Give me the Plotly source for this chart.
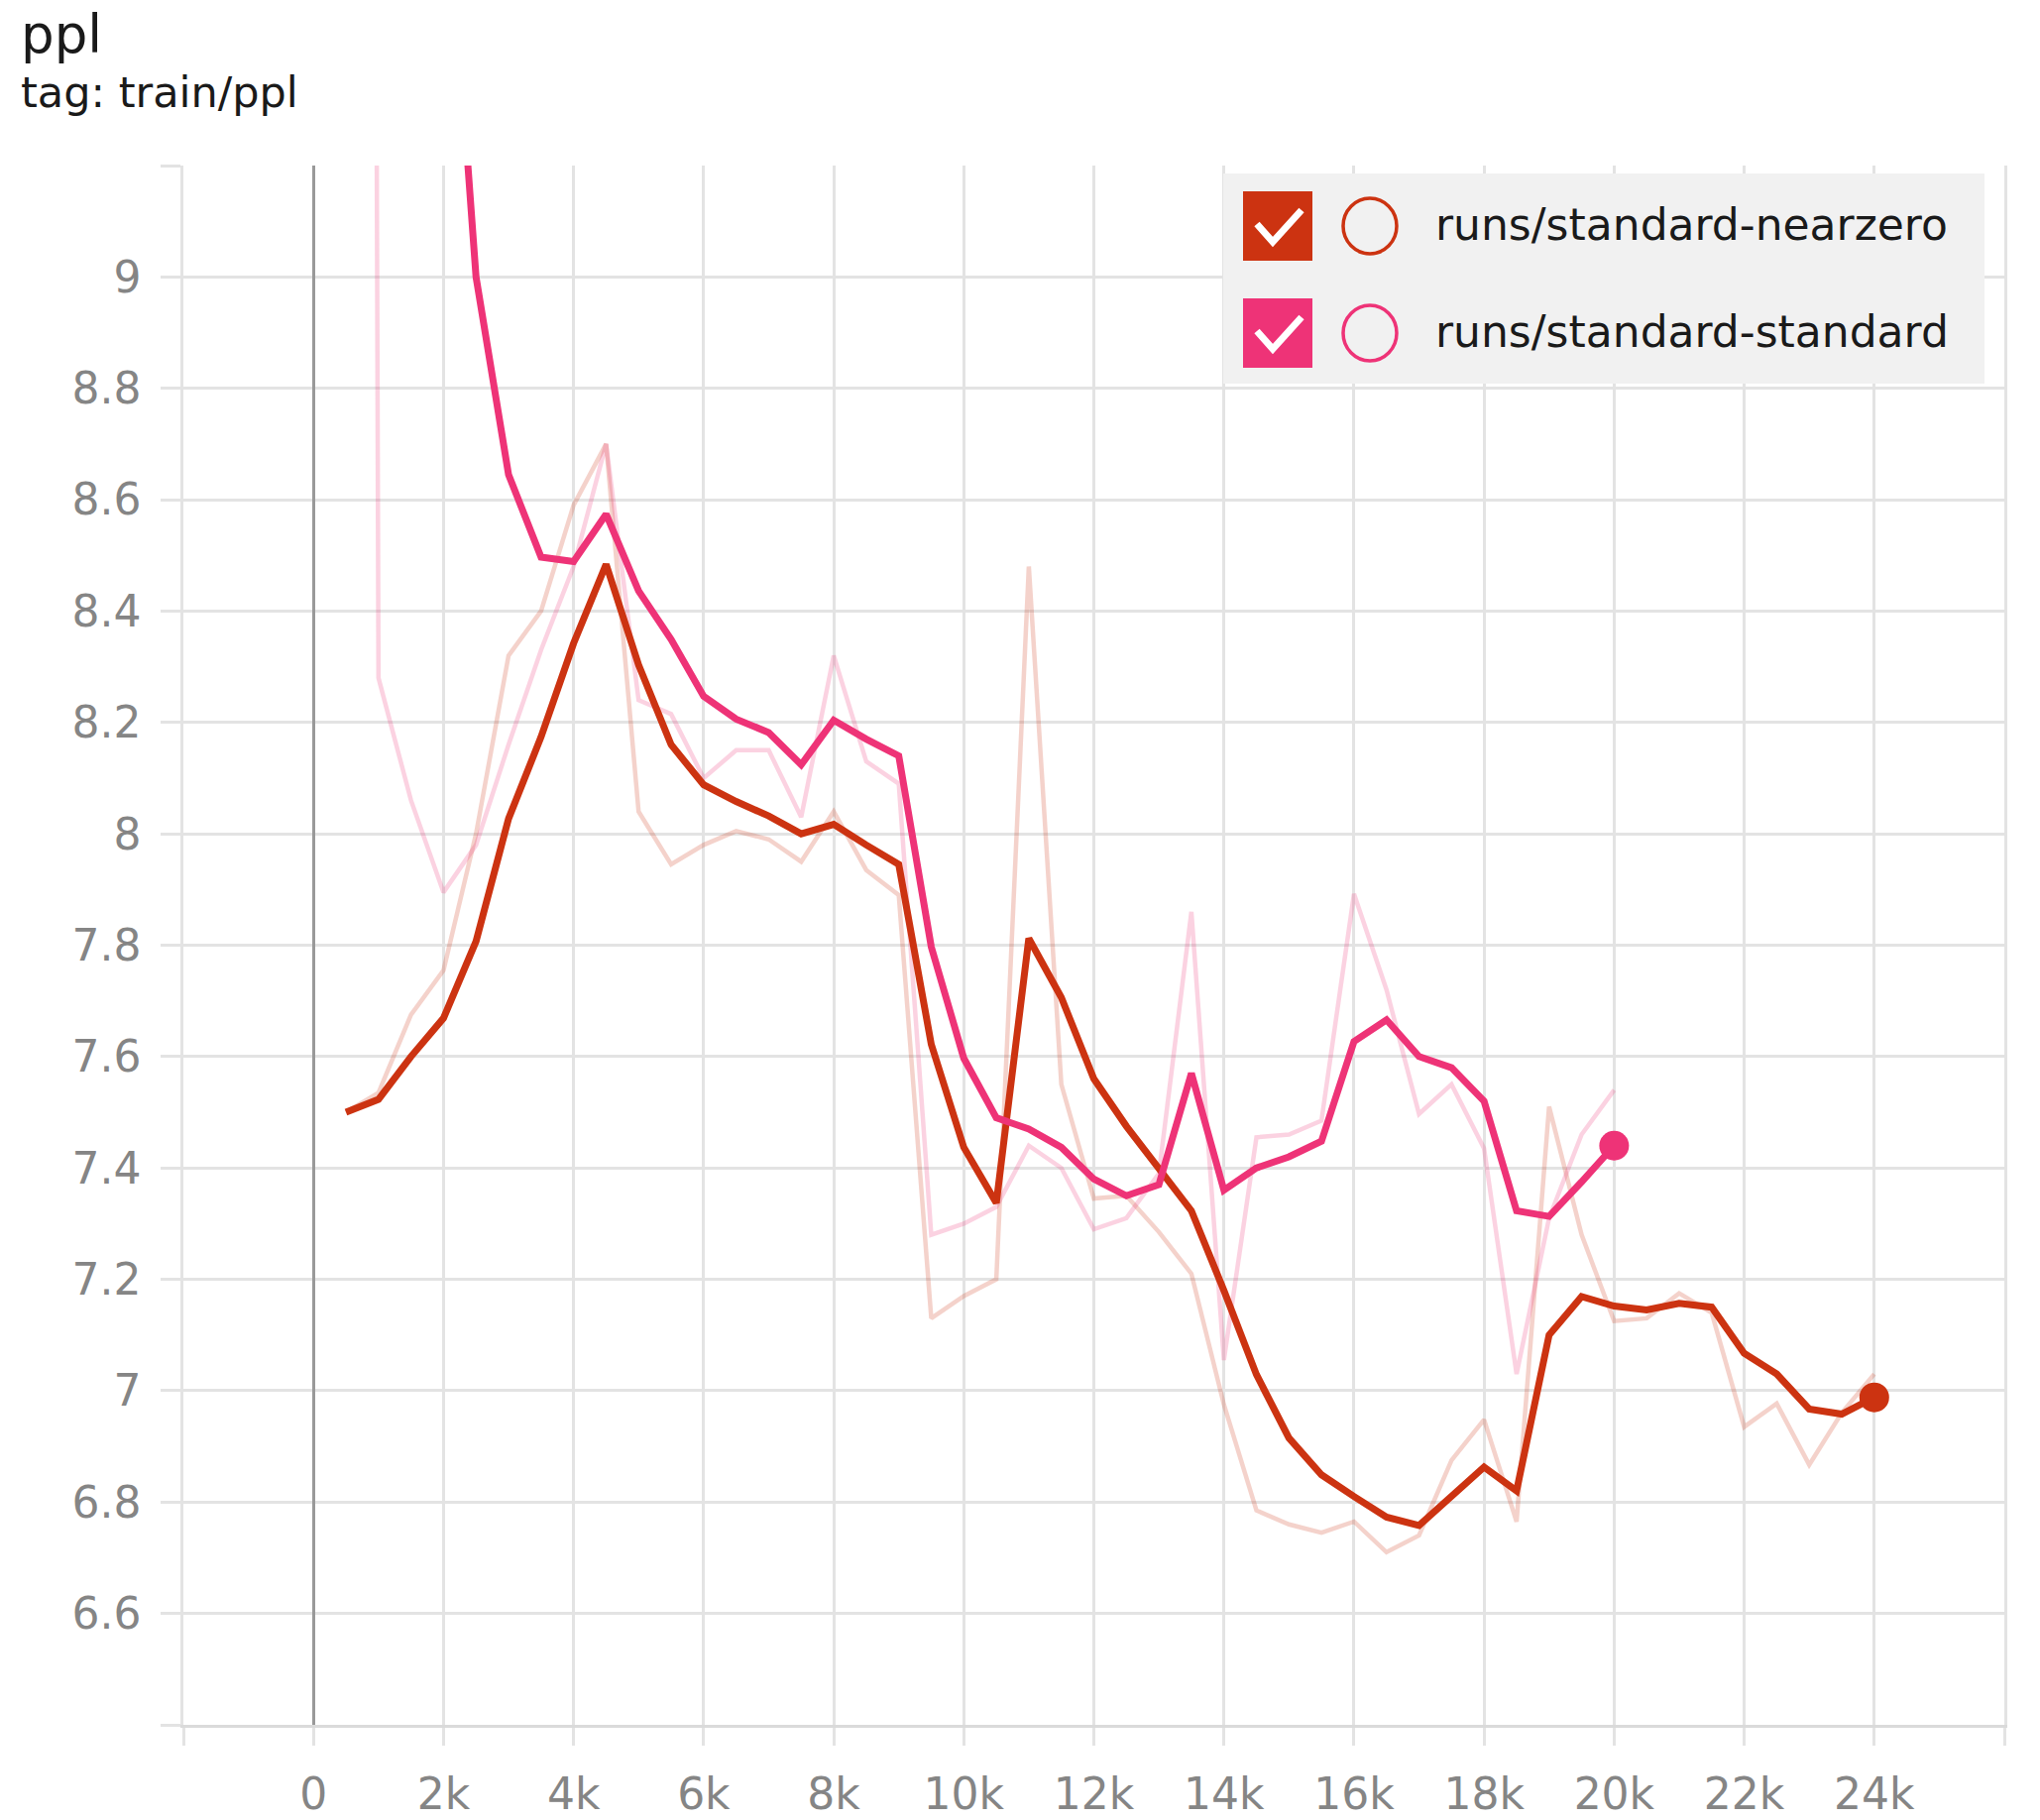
import plotly.graph_objects as go

# ---------------- data ----------------
steps_nearzero = list(range(500, 24001, 500))
steps_standard = list(range(500, 20001, 500))

nearzero_raw = [7.50, 7.535, 7.675, 7.755, 8.00, 8.32, 8.40, 8.59, 8.70, 8.04,
                7.945, 7.98, 8.005, 7.99, 7.95, 8.04, 7.935, 7.89, 7.13, 7.17,
                7.20, 8.48, 7.55, 7.345, 7.35, 7.285, 7.21, 6.975, 6.785, 6.76,
                6.745, 6.765, 6.71, 6.74, 6.875, 6.948, 6.765, 7.51, 7.28, 7.125,
                7.13, 7.175, 7.14, 6.935, 6.977, 6.867, 6.96, 7.03]
nearzero_smooth = [7.50, 7.523, 7.60, 7.669, 7.807, 8.027, 8.174, 8.342, 8.484, 8.303,
                   8.16, 8.088, 8.058, 8.032, 8.0, 8.017, 7.98, 7.945, 7.622, 7.437,
                   7.337, 7.812, 7.706, 7.56, 7.475, 7.40, 7.323, 7.18, 7.029, 6.915,
                   6.849, 6.81, 6.773, 6.758, 6.81, 6.863, 6.82, 7.10, 7.169, 7.152,
                   7.145, 7.157, 7.15, 7.067, 7.03, 6.967, 6.958, 6.988]

standard_raw = [26.0, 8.28, 8.06, 7.895, 7.98, 8.16, 8.33, 8.48, 8.70, 8.24,
                8.215, 8.10, 8.15, 8.15, 8.03, 8.32, 8.13, 8.09, 7.28, 7.30,
                7.33, 7.44, 7.40, 7.29, 7.31, 7.39, 7.86, 7.055, 7.455, 7.46,
                7.485, 7.892, 7.72, 7.497, 7.55, 7.435, 7.03, 7.31, 7.46, 7.54]
standard_smooth = [26.0, 14.93, 11.42, 9.80, 9.0, 8.645, 8.497, 8.489, 8.574, 8.436,
                   8.349, 8.247, 8.206, 8.182, 8.124, 8.204, 8.17, 8.14, 7.797, 7.597,
                   7.49, 7.47, 7.437, 7.38, 7.35, 7.37, 7.57, 7.36, 7.40, 7.42,
                   7.448, 7.627, 7.666, 7.60, 7.58, 7.52, 7.323, 7.313, 7.375, 7.44]

run_names = ["runs/standard-nearzero", "runs/standard-standard"]
run_colors = ["#cc3311", "#ee3377"]
raw_colors = ["rgba(204,51,17,0.22)", "rgba(238,51,119,0.22)"]

x_tickvals = list(range(-2000, 26001, 2000))
x_ticktext = ["", "0", "2k", "4k", "6k", "8k", "10k", "12k", "14k", "16k",
              "18k", "20k", "22k", "24k", ""]
y_tickvals = [6.4, 6.6, 6.8, 7.0, 7.2, 7.4, 7.6, 7.8, 8.0, 8.2, 8.4, 8.6, 8.8, 9.0, 9.2]
y_ticktext = ["", "6.6", "6.8", "7", "7.2", "7.4", "7.6", "7.8", "8", "8.2",
              "8.4", "8.6", "8.8", "9", ""]

title_text = "ppl"
subtitle_text = "tag: train/ppl"

# ---------------- layout helpers ----------------
W, H = 2058, 1836
PL, PR, PT, PB = 185, 2022, 167, 1740
FONT = "DejaVu Sans"
GRID = "#e3e3e3"


def px(x):
    return (x - PL) / (PR - PL)


def py(y):
    return (PB - y) / (PB - PT)


fig = go.Figure()

series = [
    (steps_nearzero, nearzero_raw, nearzero_smooth),
    (steps_standard, standard_raw, standard_smooth),
]

for i, (xs, raw, _) in enumerate(series):
    fig.add_trace(go.Scatter(x=xs, y=raw, mode="lines",
                             line=dict(color=raw_colors[i], width=4.5),
                             showlegend=False, hoverinfo="skip"))
for i, (xs, _, sm) in enumerate(series):
    fig.add_trace(go.Scatter(x=xs, y=sm, mode="lines", name=run_names[i],
                             line=dict(color=run_colors[i], width=7),
                             showlegend=False))
for i, (xs, _, sm) in enumerate(series):
    fig.add_trace(go.Scatter(x=[xs[-1]], y=[sm[-1]], mode="markers",
                             marker=dict(color=run_colors[i], size=30),
                             showlegend=False, hoverinfo="skip"))

shapes = []
annotations = []

# legend box
shapes.append(dict(type="rect", xref="paper", yref="paper",
                   x0=px(1234), x1=px(2002), y0=py(387), y1=py(175),
                   fillcolor="#f1f1f1", line=dict(width=0), layer="above"))
for r in range(2):
    dy = r * 108
    shapes.append(dict(type="rect", xref="paper", yref="paper",
                       x0=px(1254), x1=px(1324), y0=py(263 + dy), y1=py(193 + dy),
                       fillcolor=run_colors[r], line=dict(width=0), layer="above"))
    path = "M {} {} L {} {} L {} {}".format(px(1268), py(226 + dy), px(1284), py(244 + dy),
                                             px(1313), py(212 + dy))
    shapes.append(dict(type="path", xref="paper", yref="paper", path=path,
                       line=dict(color="white", width=7), layer="above"))
    shapes.append(dict(type="circle", xref="paper", yref="paper",
                       x0=px(1355), x1=px(1409), y0=py(256 + dy), y1=py(200 + dy),
                       line=dict(color=run_colors[r], width=3.5), layer="above"))
    annotations.append(dict(xref="paper", yref="paper", x=px(1446), y=py(226 + dy),
                            xanchor="left", yanchor="middle", showarrow=False,
                            text=run_names[r], font=dict(family=FONT, size=44, color="#1a1a1a")))

annotations.append(dict(xref="paper", yref="paper", x=px(19), y=py(35),
                        xanchor="left", yanchor="middle", showarrow=False,
                        text=title_text, font=dict(family=FONT, size=53, color="#1a1a1a")))
annotations.append(dict(xref="paper", yref="paper", x=px(19), y=py(93),
                        xanchor="left", yanchor="middle", showarrow=False,
                        text=subtitle_text, font=dict(family=FONT, size=43, color="#1a1a1a")))

fig.update_layout(
    width=W, height=H,
    margin=dict(l=PL, r=W - PR, t=PT, b=H - PB, pad=0, autoexpand=False),
    paper_bgcolor="white", plot_bgcolor="white",
    shapes=shapes, annotations=annotations,
    showlegend=False,
    font=dict(family=FONT),
)

fig.update_xaxes(range=[-2000, 26000], tickvals=x_tickvals, ticktext=x_ticktext,
                 automargin=False,
                 showgrid=True, gridcolor=GRID, gridwidth=2.5,
                 ticks="outside", ticklen=18, tickwidth=2.5, tickcolor=GRID,
                 zeroline=True, zerolinecolor="#999999", zerolinewidth=3,
                 showline=True, linecolor="#dadada", linewidth=3,
                 tickfont=dict(family=FONT, size=44, color="#858585"),
                 ticklabelstandoff=11)
fig.update_yaxes(range=[6.4, 9.2], tickvals=y_tickvals, ticktext=y_ticktext,
                 automargin=False,
                 showgrid=True, gridcolor=GRID, gridwidth=2.5,
                 ticks="outside", ticklen=20, tickwidth=2.5, tickcolor=GRID,
                 zeroline=False, showline=True, mirror=True, linecolor=GRID, linewidth=2.5,
                 tickfont=dict(family=FONT, size=44, color="#858585"),
                 ticklabelstandoff=11)

fig.write_html("out.html")
